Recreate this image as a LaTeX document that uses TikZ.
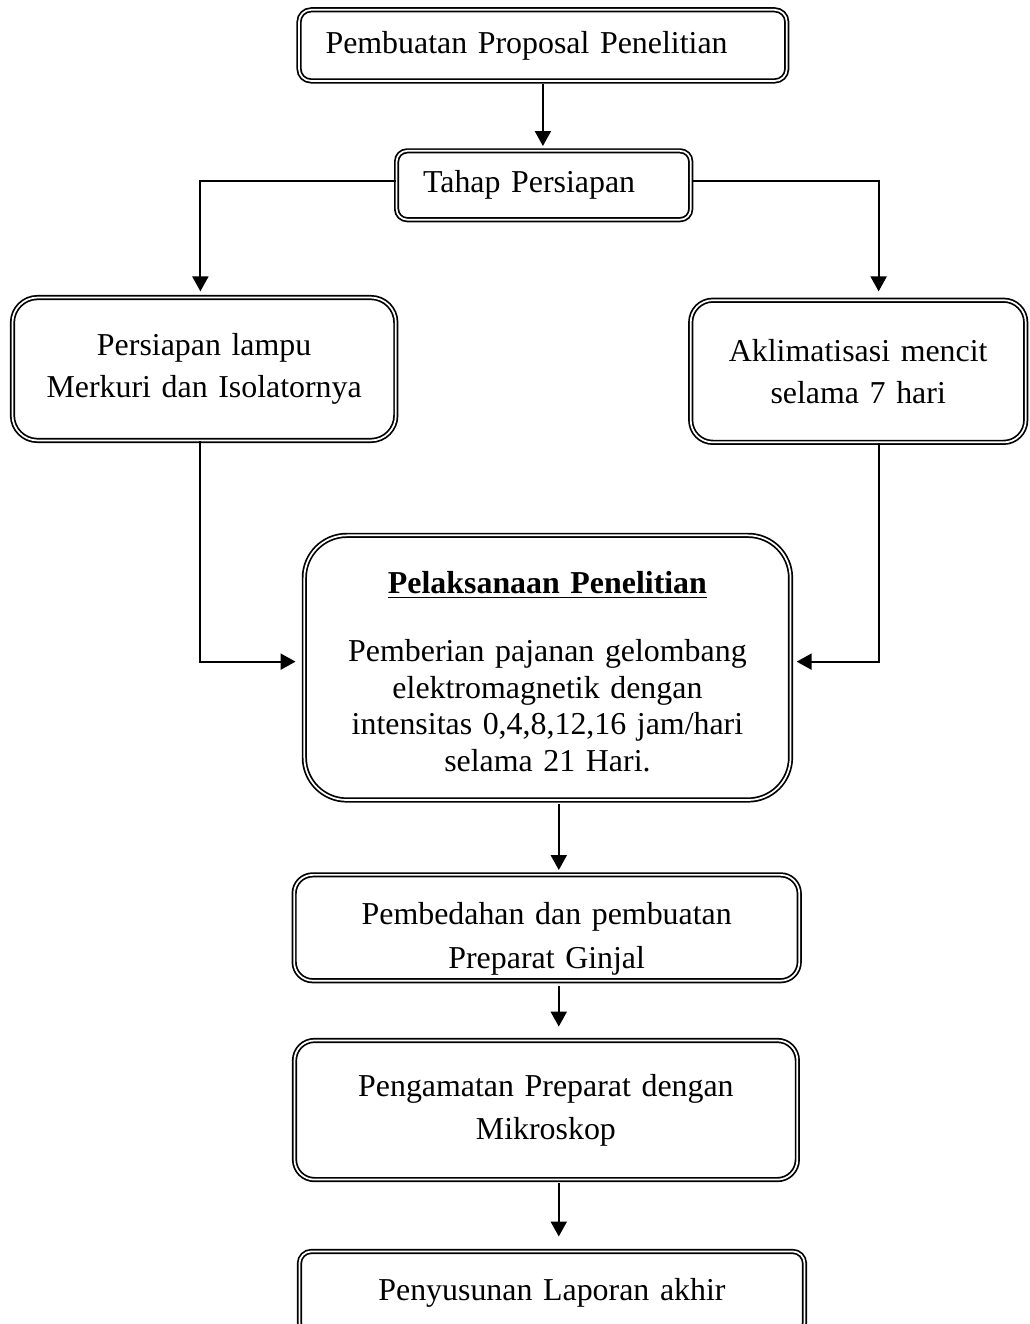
\documentclass[tikz,border=0pt]{standalone}
\usepackage{fontspec}
\setmainfont{Liberation Serif}
\usepackage{tikz}
\usetikzlibrary{arrows.meta}
\tikzset{
  dbox/.style={draw=black,double=white,double distance=0.65pt,line width=0.65pt,
    inner sep=0pt,align=center,font=\fontsize{12pt}{15.8pt}\selectfont},
  arr/.style={line width=0.75pt,-{Triangle[length=5.6pt,width=6pt]}}
}

\begin{document}
\begin{tikzpicture}
  \useasboundingbox (0,0) rectangle (13.62,-17.51);
  \coordinate (spine) at (7.39,0);

  \node[dbox,rounded corners=4.5pt,minimum width=6.45cm,minimum height=0.94cm,
    text width=5.75cm,align=left] (proposal) at (7.18,-0.60) {Pembuatan Proposal Penelitian};
  \node[dbox,rounded corners=4pt,minimum width=3.89cm,minimum height=0.91cm,
    text width=3.19cm,align=left] (tahap) at (7.19,-2.45) {Tahap Persiapan};
  \node[dbox,rounded corners=9.4pt,minimum width=5.07cm,minimum height=1.89cm,
    text width=4.6cm] (lampu) at (2.70,-4.88) {Persiapan lampu\\Merkuri dan Isolatornya};
  \node[dbox,rounded corners=8.3pt,minimum width=4.43cm,minimum height=1.88cm,
    text width=4cm] (mencit) at (11.35,-4.91) {Aklimatisasi mencit\\selama 7 hari};
  \node[dbox,rounded corners=16pt,minimum width=6.43cm,minimum height=3.50cm,
    text width=5.8cm,font=\fontsize{12pt}{13.8pt}\selectfont] (pelaksanaan) at (7.24,-8.83)
    {\rule{0pt}{11.2pt}\underline{\textbf{Pelaksanaan Penelitian}}\\[11.8pt]
     Pemberian pajanan gelombang\\elektromagnetik dengan\\
     intensitas 0,4,8,12,16 jam/hari\\selama 21 Hari.};
  \node[dbox,rounded corners=7pt,minimum width=6.68cm,minimum height=1.40cm,
    text width=6cm,font=\fontsize{12pt}{16.4pt}\selectfont] (bedah) at (7.23,-12.27)
    {\rule{0pt}{16.8pt}Pembedahan dan pembuatan\\Preparat Ginjal};
  \node[dbox,rounded corners=7.5pt,minimum width=6.65cm,minimum height=1.84cm,
    text width=6cm,font=\fontsize{12pt}{16.2pt}\selectfont] (amat) at (7.22,-14.68)
    {Pengamatan Preparat dengan\\Mikroskop};
  \node[dbox,rounded corners=4.5pt,minimum width=6.68cm,minimum height=1.10cm,
    text width=6cm] (laporan) at (7.30,-17.10) {Penyusunan Laporan akhir};

  % alur persiapan
  \draw[arr,shorten <=1pt,shorten >=1.5pt] (proposal.south) -- (proposal.south |- tahap.north);
  \draw[arr,shorten >=2pt] ([yshift=0.05cm]tahap.west) -| ([xshift=-0.05cm]lampu.north);
  \draw[arr,shorten >=3pt] ([yshift=0.05cm]tahap.east) -| ([xshift=0.27cm]mencit.north);
  \draw[arr,shorten >=3pt] ([xshift=-0.05cm]lampu.south) |- ([yshift=0.08cm]pelaksanaan.west);
  \draw[arr,shorten >=2pt] ([xshift=0.27cm]mencit.south) |- ([yshift=0.08cm]pelaksanaan.east);

  % alur pelaksanaan
  \draw[arr,shorten <=1pt,shorten >=1.5pt] (pelaksanaan.south -| spine) -- (bedah.north -| spine);
  \draw[arr,shorten <=1.5pt,shorten >=4.9pt] (bedah.south -| spine) -- (amat.north -| spine);
  \draw[arr,shorten <=1pt,shorten >=5.3pt] (amat.south -| spine) -- (laporan.north -| spine);
\end{tikzpicture}
\end{document}
